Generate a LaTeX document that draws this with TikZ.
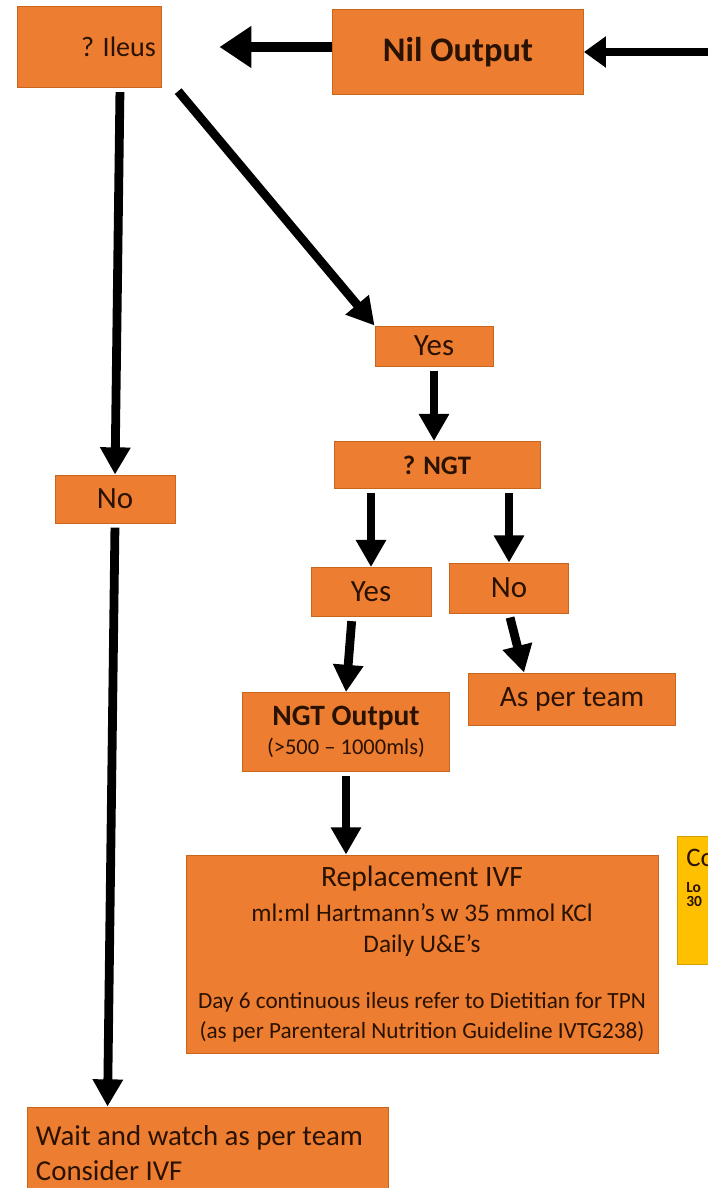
\documentclass[tikz,border=0pt]{standalone}
\usepackage{fontspec}
\setmainfont{Carlito}
\usetikzlibrary{arrows.meta,calc}
\definecolor{boxorange}{HTML}{ED7D31}
\definecolor{boxedge}{HTML}{C8651E}
\definecolor{boxyellow}{HTML}{FFC000}
\definecolor{yellowedge}{HTML}{D4A000}
\definecolor{ink}{HTML}{2A1200}

\begin{document}
\begin{tikzpicture}[x=0.025cm, y=-0.025cm,
   box/.style={draw=boxedge, line width=0.6pt, fill=boxorange, text=ink, align=center},
   note/.style={draw=yellowedge, line width=0.6pt, fill=boxyellow},
   flow/.style={line width=0.22cm, -{Triangle[width=0.72cm,length=0.68cm]}, shorten <=3pt},
   flowtop/.style={line width=0.24cm, -{Triangle[width=1cm,length=0.8cm]}},
   flowin/.style={line width=0.2cm, -{Triangle[width=0.75cm,length=0.55cm]}},
   answer/.style={box, font=\fontsize{22}{25}\selectfont}]

\clip (0,0) rectangle (708,1188);

% top row
\node[box, minimum width=3.6cm, minimum height=2.025cm, text width=3.35cm, align=flush right, inner xsep=0.125cm,
   font=\fontsize{20}{24}\selectfont] (ileus) at (89,47) {? Ileus};
\node[box, minimum width=6.275cm, minimum height=2.125cm, font=\fontsize{24.5}{28}\selectfont\bfseries] (nil) at (458,52) {Nil Output};
\coordinate (from) at (730,52);

% yes branch
\node[answer, minimum width=2.95cm, minimum height=1cm] (yes1) at (434,346) {Yes};
\node[box, minimum width=5.15cm, minimum height=1.175cm, font=\fontsize{19}{22}\selectfont\bfseries] (ngtq) at (437,465) {? NGT};
\node[answer, minimum width=3cm, minimum height=1.225cm] (yes2) at (371,592) {Yes};
\node[answer, minimum width=2.975cm, minimum height=1.25cm] (no2) at (509,588) {No};
\node[box, minimum width=5.175cm, minimum height=1.3cm, font=\fontsize{21}{24}\selectfont] (team) at (572,699) {As per team};
\node[box, minimum width=5.175cm, minimum height=1.975cm, font=\fontsize{21}{21}\selectfont] (ngtout) at (346,732)
   {\textbf{NGT Output}\\[0pt]{\fontsize{16}{18}\selectfont (>500 – 1000mls)}};
\node[box, minimum width=11.8cm, minimum height=4.95cm, font=\fontsize{18}{22}\selectfont] (repl) at (422,954)
   {{\fontsize{21}{25}\selectfont Replacement IVF}\\[3pt]
    ml:ml Hartmann’s w 35 mmol KCl\\
    Daily U\&E’s\\[0.63cm]
    {\fontsize{16.5}{20}\selectfont Day 6 continuous ileus refer to Dietitian for TPN}\\[-1pt]
    {\fontsize{16.5}{20}\selectfont (as per Parenteral Nutrition Guideline IVTG238)}};

% side note, cut by the edge
\node[note, minimum width=5.5cm, minimum height=3.2cm] (side) at (787,900) {};
\node[anchor=north west, align=left, inner sep=0pt, text=ink, font=\fontsize{11}{9.5}\selectfont\bfseries] (sidetext) at (686,849)
   {{\fontsize{19}{22}\mdseries Co}\\[9pt] Lo\\[0.5pt] 30};

% no branch
\node[answer, minimum width=3cm, minimum height=1.2cm] (no1) at (115,499) {No};
\node[box, minimum width=9.025cm, minimum height=2.3cm, text width=8.575cm, inner xsep=0.225cm, align=flush left,
   font=\fontsize{20.5}{25}\selectfont] (wait) at (207.5,1153) {Wait and watch as per team\\Consider IVF};

% connectors
\draw[flowin] (from) -- (nil.east);
\draw[flowtop, shorten >=1.45cm] (nil.west |- ileus) -- (ileus.east);
\draw[flow] ($(ileus.south)+(31,0)$) -- (no1.north);
\draw[flow] ($(ileus.south east)+(14,0)$) -- (yes1.north west);
\draw[flow] (yes1.south) -- (yes1.south |- ngtq.north);
\draw[flow] (yes2.north |- ngtq.south) -- (yes2.north);
\draw[flow] (no2.north |- ngtq.south) -- (no2.north);
\draw[flow] ($(yes2.south)+(-19,0)$) -- (ngtout.north);
\draw[flow] (no2.south) -- ($(team.north west)+(56,0)$);
\draw[flow] (ngtout.south) -- (ngtout.south |- repl.north);
\draw[flow] (no1.south) -- ($(wait.north west)+(81,0)$);

\end{tikzpicture}
\end{document}
